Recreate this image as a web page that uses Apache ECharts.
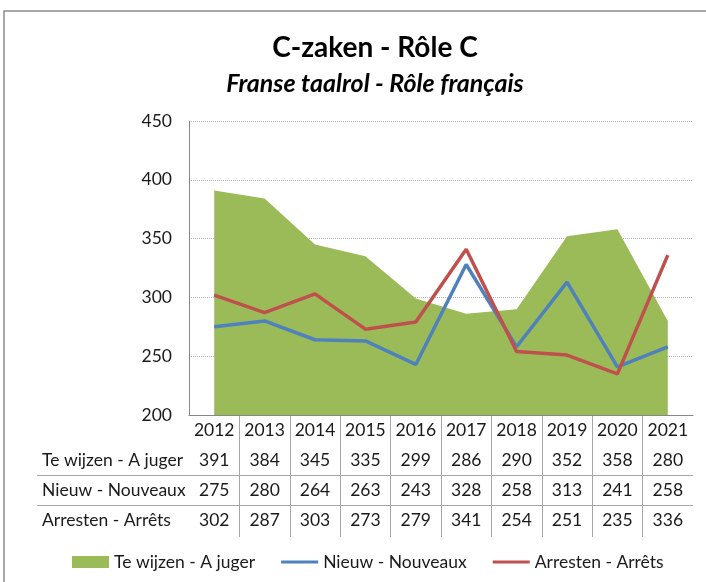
<!DOCTYPE html>
<html>
<head>
<meta charset="utf-8">
<title>C-zaken - Rôle C</title>
<script src="https://cdn.jsdelivr.net/npm/echarts@6/dist/echarts.min.js"></script>
<style>
    html, body { margin: 0; padding: 0; background: #fff; }
    #main { width: 706px; height: 582px; }
</style>
</head>
<body>
<div id="main"></div>
<script>
// jaren (categorieën)
const years = ['2012', '2013', '2014', '2015', '2016', '2017', '2018', '2019', '2020', '2021'];
// Te wijzen - A juger
const teWijzen = [391, 384, 345, 335, 299, 286, 290, 352, 358, 280];
// Nieuw - Nouveaux
const nieuw = [275, 280, 264, 263, 243, 328, 258, 313, 241, 258];
// Arresten - Arrêts
const arresten = [302, 287, 303, 273, 279, 341, 254, 251, 235, 336];
const seriesNames = ['Te wijzen - A juger', 'Nieuw - Nouveaux', 'Arresten - Arrêts'];
// y-as
const yMin = 200, yMax = 450, yStep = 50;

const FONT = 'Lato';
const FS = 17.5;
const TXT = '#1a1a1a';
const tableRows = [teWijzen, nieuw, arresten];
const none = 'rgba(0,0,0,0)';
const tableLine = '#a6a6a6';

const chart = echarts.init(document.getElementById('main'), null, { renderer: 'canvas' });

//rijen van de datatabel: een x-as per reeks, onder de grafiek
let rowAxes = tableRows.map((row, r) => ({
    type: 'category',
    gridIndex: 0,
    position: 'bottom',
    offset: 30 * (r + 1),
    data: years,
    boundaryGap: true,
    axisLine: { show: false },
    axisTick: { show: false },
    splitLine: { show: false },
    axisLabel: {
        interval: 0,
        margin: 6,
        fontFamily: FONT,
        fontSize: FS,
        color: TXT,
        formatter: (v, i) => String(row[i])
    }
}));

const option = {
    backgroundColor: '#fff',
    animation: false,
    color: ['#9BBB59', '#4F81BD', '#C0504D'],
    title: {
        text: 'C-zaken - Rôle C',
        subtext: 'Franse taalrol - Rôle français',
        left: 375,
        textAlign: 'center',
        top: 34,
        padding: 0,
        itemGap: 9,
        textStyle: { fontFamily: FONT, fontSize: 28, fontWeight: 'bold', color: '#000' },
        subtextStyle: { fontFamily: FONT, fontSize: 25, fontWeight: 'bold', fontStyle: 'italic', color: '#000' }
    },
    graphic: [{
        type: 'rect',
        silent: true,
        shape: { x: 4, y: 11, width: 760, height: 640 },
        style: { fill: 'none', stroke: '#8c8c8c', lineWidth: 1.5 }
    }],
    legend: {
        left: 67,
        top: 548,
        itemWidth: 37,
        itemHeight: 12,
        itemGap: 26,
        textStyle: { fontFamily: FONT, fontSize: FS, color: TXT },
        data: [
            { name: seriesNames[0], icon: 'rect' },
            { name: seriesNames[1], icon: 'path://M0,0H40V3H0Z' },
            { name: seriesNames[2], icon: 'path://M0,0H40V3H0Z' }
        ]
    },
    grid: [
        // grafiek
        { left: 189, top: 121, width: 504, height: 294 },
        // verticale lijnen van de tabel
        { left: 189, top: 415, width: 504, height: 122 },
        // horizontale lijnen en rijnamen
        { left: 37, top: 415, width: 656, height: 120 }
    ],
    xAxis: [{
        type: 'category',
        gridIndex: 0,
        data: years,
        boundaryGap: true,
        axisLine: { lineStyle: { color: '#868686', width: 1 } },
        axisTick: { show: false },
        axisLabel: { interval: 0, margin: 6, fontFamily: FONT, fontSize: FS, color: TXT }
    }].concat(rowAxes).concat([{
        type: 'category',
        gridIndex: 1,
        data: years,
        boundaryGap: true,
        axisLine: { show: false },
        axisTick: { show: false, interval: 0 },
        axisLabel: { show: false, interval: 0 },
        splitLine: {
            show: true,
            interval: 0,
            lineStyle: { color: [none, tableLine, tableLine, tableLine, tableLine, tableLine, tableLine, tableLine, tableLine, tableLine, none], width: 1 }
        }
    }, {
        type: 'value',
        gridIndex: 2,
        show: false
    }]),
    yAxis: [{
        type: 'value',
        gridIndex: 0,
        min: yMin,
        max: yMax,
        interval: yStep,
        axisLine: { show: true, lineStyle: { color: '#868686', width: 1 } },
        axisTick: { show: false },
        axisLabel: { margin: 17, fontFamily: FONT, fontSize: FS, color: TXT },
        splitLine: { lineStyle: { color: '#b4b4b4', type: 'dotted', width: 1 } }
    }, {
        type: 'value',
        gridIndex: 1,
        show: false
    }, {
        type: 'category',
        gridIndex: 2,
        inverse: true,
        data: [''].concat(seriesNames),
        boundaryGap: true,
        axisLine: { show: false },
        axisTick: { show: false },
        axisLabel: { inside: true, interval: 0, margin: 5, align: 'left', fontFamily: FONT, fontSize: FS, color: TXT },
        splitLine: {
            show: true,
            interval: 0,
            lineStyle: { color: [none, none, tableLine, tableLine, none], width: 1 }
        }
    }],
    series: [{
        name: seriesNames[0],
        type: 'line',
        xAxisIndex: 0,
        yAxisIndex: 0,
        data: teWijzen,
        symbol: 'none',
        lineStyle: { width: 0 },
        itemStyle: { color: '#9BBB59' },
        areaStyle: { color: '#9BBB59', opacity: 1, origin: 'start' },
        z: 1
    }, {
        name: seriesNames[1],
        type: 'line',
        xAxisIndex: 0,
        yAxisIndex: 0,
        data: nieuw,
        symbol: 'none',
        itemStyle: { color: '#4F81BD' },
        lineStyle: { color: '#4F81BD', width: 3.5 },
        z: 3
    }, {
        name: seriesNames[2],
        type: 'line',
        xAxisIndex: 0,
        yAxisIndex: 0,
        data: arresten,
        symbol: 'none',
        itemStyle: { color: '#C0504D' },
        lineStyle: { color: '#C0504D', width: 3.5 },
        z: 4
    }]
};

chart.setOption(option);
</script>
</body>
</html>
